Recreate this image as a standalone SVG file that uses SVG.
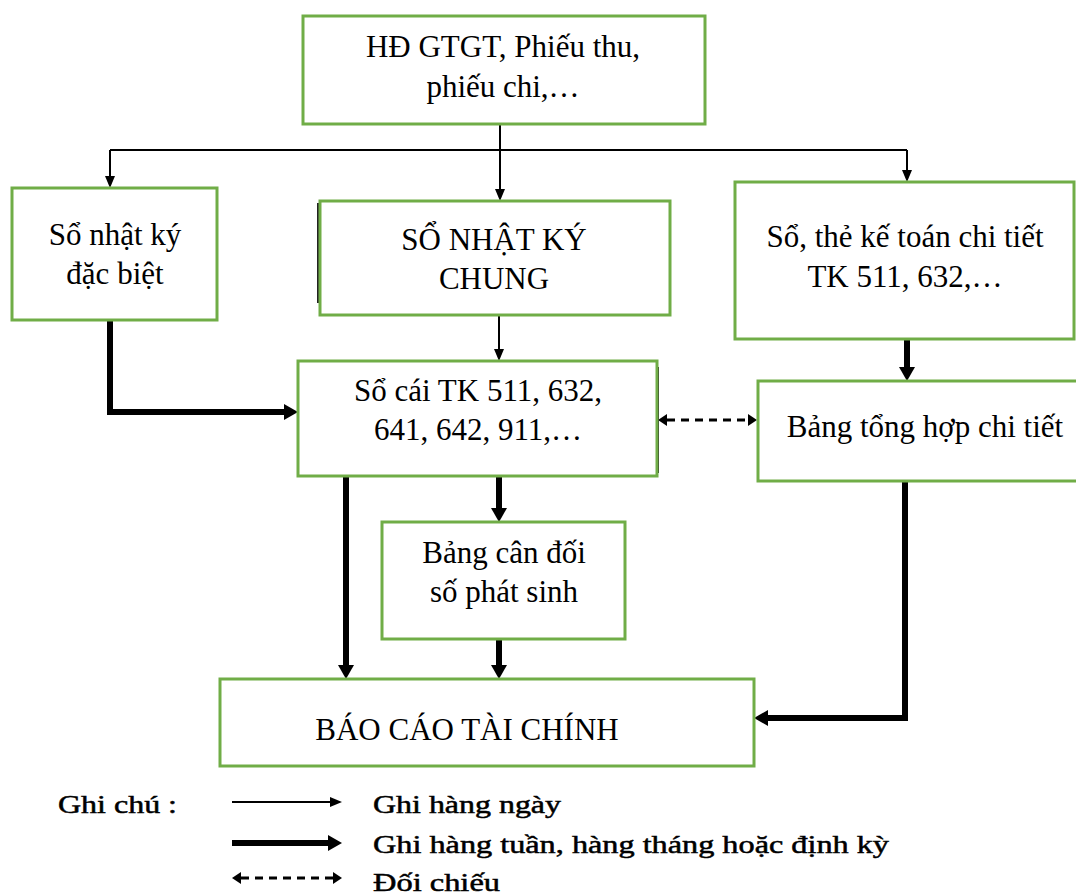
<svg xmlns="http://www.w3.org/2000/svg" width="1076" height="894" viewBox="0 0 1076 894">
  <style>
    .box { fill: #ffffff; stroke: #70AD47; stroke-width: 3; }
    .lbl { font-family: "Liberation Serif", "Times New Roman", serif; font-size: 31px; fill: #000; text-anchor: middle; }
    .leg { font-family: "Liberation Serif", "Times New Roman", serif; font-size: 25px; fill: #000; stroke: #000; stroke-width: 0.5; }
    .thin { fill: none; stroke: #000; stroke-width: 2; marker-end: url(#tipThin); }
    .thick { fill: none; stroke: #000; stroke-width: 6; stroke-linejoin: miter; marker-end: url(#tipThick); }
    .dash { fill: none; stroke: #000; stroke-width: 3; stroke-dasharray: 8 6; marker-start: url(#tipDash); marker-end: url(#tipDash); }
    .edge { stroke: #222; stroke-width: 2; }
  </style>
  <defs>
    <marker id="tipThin" markerUnits="userSpaceOnUse" markerWidth="12" markerHeight="10" refX="0" refY="5" orient="auto">
      <path d="M0,0 L12,5 L0,10 z" fill="#000"/>
    </marker>
    <marker id="tipThick" markerUnits="userSpaceOnUse" markerWidth="14" markerHeight="16" refX="0" refY="8" orient="auto">
      <path d="M0,0 L14,8 L0,16 z" fill="#000"/>
    </marker>
    <marker id="tipDash" markerUnits="userSpaceOnUse" markerWidth="9" markerHeight="12" refX="0" refY="6" orient="auto-start-reverse">
      <path d="M0,0 L9,6 L0,12 z" fill="#000"/>
    </marker>
  </defs>

  <!-- connectors -->
  <g id="connectors">
    <path d="M500,124 V150 M110,150 H907" fill="none" stroke="#000" stroke-width="2"/>
    <path class="thin" d="M110,150 V176"/>
    <path class="thin" d="M500,150 V189"/>
    <path class="thin" d="M907,150 V170"/>
    <path class="thin" d="M499,315 V349"/>
    <path class="thick" d="M110,320 V412 H284"/>
    <path class="thick" d="M907,339 V367"/>
    <path class="thick" d="M346,476 V665"/>
    <path class="thick" d="M499,476 V508"/>
    <path class="thick" d="M499,639 V665"/>
    <path class="thick" d="M905,481 V718 H768"/>
    <path class="dash" d="M667,420 H748"/>
  </g>

  <g id="chung-tu">
    <rect class="box" x="303" y="16" width="402" height="108"/>
    <text class="lbl" x="503" y="57">HĐ GTGT, Phiếu thu,</text>
    <text class="lbl" x="503" y="97">phiếu chi,…</text>
  </g>

  <g id="nhat-ky-dac-biet">
    <rect class="box" x="12" y="188" width="205" height="132"/>
    <text class="lbl" x="115" y="245">Sổ nhật ký</text>
    <text class="lbl" x="115" y="284">đặc biệt</text>
  </g>

  <g id="nhat-ky-chung">
    <line class="edge" x1="318" y1="203" x2="318" y2="303"/>
    <rect class="box" x="320" y="201" width="350" height="114"/>
    <text class="lbl" x="494" y="250">SỔ NHẬT KÝ</text>
    <text class="lbl" x="494" y="289">CHUNG</text>
  </g>

  <g id="so-chi-tiet">
    <rect class="box" x="735" y="182" width="339" height="157"/>
    <text class="lbl" x="905" y="247">Sổ, thẻ kế toán chi tiết</text>
    <text class="lbl" x="905" y="287">TK 511, 632,…</text>
  </g>

  <g id="so-cai">
    <line class="edge" x1="658" y1="367" x2="658" y2="473"/>
    <rect class="box" x="298" y="361" width="359" height="115"/>
    <text class="lbl" x="478" y="401">Sổ cái TK 511, 632,</text>
    <text class="lbl" x="478" y="440">641, 642, 911,…</text>
  </g>

  <g id="tong-hop-chi-tiet">
    <rect class="box" x="758" y="381" width="330" height="100"/>
    <text class="lbl" x="925" y="437">Bảng tổng hợp chi tiết</text>
  </g>

  <g id="can-doi-phat-sinh">
    <rect class="box" x="382" y="522" width="243" height="117"/>
    <text class="lbl" x="504" y="563">Bảng cân đối</text>
    <text class="lbl" x="504" y="602">số phát sinh</text>
  </g>

  <g id="bao-cao-tai-chinh">
    <rect class="box" x="220" y="679" width="534" height="87"/>
    <text class="lbl" x="467" y="740">BÁO CÁO TÀI CHÍNH</text>
  </g>

  <!-- legend -->
  <g id="legend">
    <text class="leg" x="58" y="813" textLength="119" lengthAdjust="spacingAndGlyphs">Ghi chú :</text>
    <path class="thin" d="M232,802 H330"/>
    <text class="leg" x="373" y="813" textLength="188" lengthAdjust="spacingAndGlyphs">Ghi hàng ngày</text>
    <path class="thick" d="M232,843 H328" stroke-width="7"/>
    <text class="leg" x="373" y="853" textLength="516" lengthAdjust="spacingAndGlyphs">Ghi hàng tuần, hàng tháng hoặc định kỳ</text>
    <path class="dash" d="M241,878 H333" stroke-dasharray="7 6"/>
    <text class="leg" x="373" y="891" textLength="127" lengthAdjust="spacingAndGlyphs">Đối chiếu</text>
  </g>
</svg>
